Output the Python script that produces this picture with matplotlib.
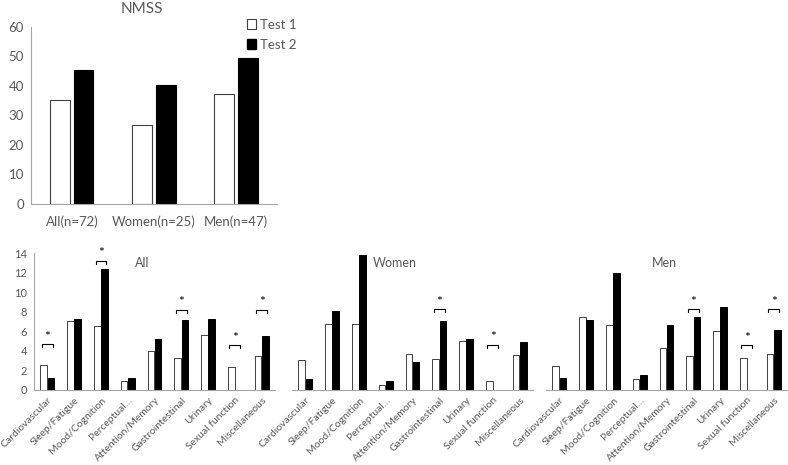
import numpy as np
import matplotlib
matplotlib.use('Agg')
import matplotlib.pyplot as plt
from matplotlib.patches import Patch

plt.rcParams['font.family'] = ['Lato', 'DejaVu Sans']

# overall NMSS totals
groups = ['All(n=72)', 'Women(n=25)', 'Men(n=47)']
nmss_test1 = [35.2, 26.6, 37.3]
nmss_test2 = [45.5, 40.2, 49.3]

# domain scores
domains = ['Cardiovascular', 'Sleep/Fatigue', 'Mood/Cognition', 'Perceptual\u2026',
           'Attention/Memory', 'Gastrointestinal', 'Urinary', 'Sexual function',
           'Miscellaneous']
all_test1 = [2.6, 7.1, 6.6, 0.9, 4.0, 3.25, 5.6, 2.4, 3.5]
all_test2 = [1.2, 7.3, 12.4, 1.25, 5.2, 7.2, 7.25, 0.0, 5.55]
women_test1 = [3.05, 6.75, 6.8, 0.5, 3.7, 3.2, 5.0, 0.9, 3.55]
women_test2 = [1.1, 8.1, 13.8, 0.95, 2.9, 7.05, 5.2, 0.0, 4.9]
men_test1 = [2.5, 7.5, 6.65, 1.15, 4.3, 3.45, 6.05, 3.3, 3.7]
men_test2 = [1.25, 7.15, 11.95, 1.55, 6.65, 7.45, 8.55, 0.0, 6.1]

# significance brackets: (domain index, bracket level)
all_sig = [(0, 4.7), (2, 13.25), (5, 8.2), (7, 4.6), (8, 8.2)]
women_sig = [(5, 8.25), (7, 4.65)]
men_sig = [(5, 8.25), (7, 4.6), (8, 8.25)]

txt = '#595959'
spine = '#a6a6a6'
edge = '#404040'

fig = plt.figure(figsize=(7.88, 4.65), dpi=100)

# top chart
ax = fig.add_axes([0.0393, 0.5613, 0.3122, 0.3813])
x = np.arange(len(groups))
w = 0.235
ax.bar(x - 0.145, nmss_test1, w, color='white', edgecolor=edge, linewidth=0.8)
ax.bar(x + 0.145, nmss_test2, w, color='black', edgecolor='black', linewidth=0.8)
ax.set_xlim(-0.5, 2.5)
ax.set_ylim(0, 60)
ax.set_yticks(range(0, 61, 10))
ax.set_xticks(x)
ax.set_xticklabels(groups)
ax.tick_params(length=0, labelsize=9.5, colors=txt, pad=5)
ax.tick_params(axis='x', pad=8)
for s in ['top', 'right']:
    ax.spines[s].set_visible(False)
for s in ['left', 'bottom']:
    ax.spines[s].set_color(spine)
fig.text(142 / 788, 1 - 9 / 465, 'NMSS', ha='center', va='center', fontsize=11, color=txt)

handles = [Patch(facecolor='white', edgecolor=edge, linewidth=0.8, label='Test 1'),
           Patch(facecolor='black', edgecolor='black', label='Test 2')]
fig.legend(handles=handles, loc='upper left', bbox_to_anchor=(240 / 788, 1 - 12 / 465),
           frameon=False, fontsize=9.5, labelcolor=txt, handlelength=0.7, handleheight=0.7,
           handletextpad=0.3, labelspacing=0.6, borderpad=0)


def panel(rect, title, title_x, t1, t2, sig, show_y):
    a = fig.add_axes(rect)
    xi = np.arange(len(domains))
    bw = 0.25
    a.bar(xi - 0.135, t1, bw, color='white', edgecolor=edge, linewidth=0.7)
    a.bar(xi + 0.135, t2, bw, color='black', edgecolor='black', linewidth=0.7)
    a.set_xlim(-0.5, len(domains) - 0.5)
    a.set_ylim(0, 14)
    a.set_xticks(xi)
    a.set_xticklabels(domains, rotation=45, ha='right', rotation_mode='anchor')
    a.tick_params(length=0, labelsize=7.5, colors=txt, pad=4)
    for s in ['top', 'right']:
        a.spines[s].set_visible(False)
    a.spines['bottom'].set_color(spine)
    if show_y:
        a.spines['left'].set_color(spine)
        a.set_yticks(range(0, 15, 2))
        a.tick_params(axis='y', labelsize=8, pad=5)
    else:
        a.spines['left'].set_visible(False)
        a.set_yticks([])
    a.text(title_x, 0.93, title, transform=a.transAxes, ha='center', va='center',
           fontsize=9, color=txt)
    for i, lvl in sig:
        a.plot([i - 0.2, i - 0.2, i + 0.2, i + 0.2], [lvl - 0.3, lvl, lvl, lvl - 0.3],
               color='black', lw=0.8)
        a.text(i, lvl + 0.15, '*', ha='center', va='bottom', fontsize=10, color='black')
    return a


panel([34 / 788, 0.1613, 241 / 788, 0.294], 'All', 0.45, all_test1, all_test2, all_sig, True)
panel([292 / 788, 0.1613, 241 / 788, 0.294], 'Women', 0.425, women_test1, women_test2, women_sig, False)
panel([546 / 788, 0.1613, 241 / 788, 0.294], 'Men', 0.49, men_test1, men_test2, men_sig, False)

fig.savefig('out.png', dpi=100, facecolor='white')
